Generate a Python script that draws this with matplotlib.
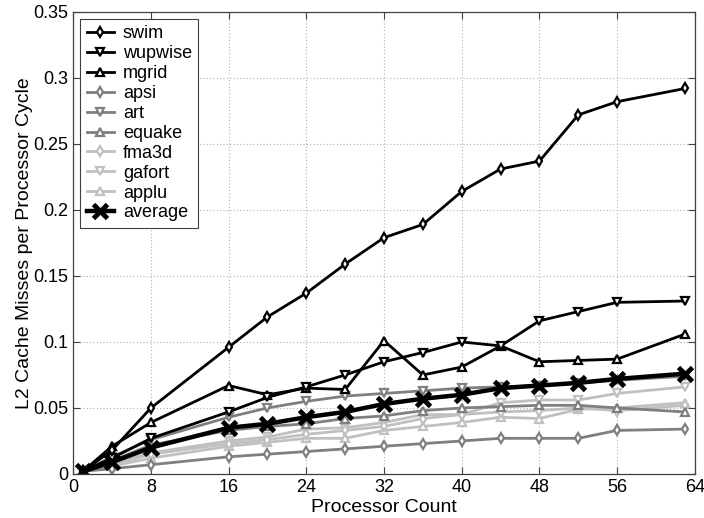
import numpy as np
import matplotlib
matplotlib.use("Agg")
import matplotlib.pyplot as plt

plt.rcParams['font.family'] = ['Liberation Sans', 'DejaVu Sans']

# processor counts sampled in the runs
procs = [1, 4, 8, 16, 20, 24, 28, 32, 36, 40, 44, 48, 52, 56, 63]

# L2 misses per processor cycle for each benchmark
swim    = [0.002, 0.018, 0.050, 0.096, 0.119, 0.137, 0.159, 0.179, 0.189, 0.214, 0.231, 0.237, 0.272, 0.282, 0.292]
wupwise = [0.002, 0.012, 0.027, 0.047, 0.058, 0.066, 0.075, 0.085, 0.092, 0.100, 0.097, 0.116, 0.123, 0.130, 0.131]
mgrid   = [0.002, 0.021, 0.039, 0.067, 0.060, 0.065, 0.064, 0.101, 0.075, 0.081, 0.097, 0.085, 0.086, 0.087, 0.106]
apsi    = [0.002, 0.004, 0.007, 0.013, 0.015, 0.017, 0.019, 0.021, 0.023, 0.025, 0.027, 0.027, 0.027, 0.033, 0.034]
art     = [0.002, 0.013, 0.026, 0.043, 0.050, 0.055, 0.059, 0.061, 0.063, 0.065, 0.066, 0.067, 0.069, 0.071, 0.074]
equake  = [0.002, 0.010, 0.022, 0.033, 0.036, 0.038, 0.042, 0.044, 0.048, 0.050, 0.051, 0.052, 0.052, 0.050, 0.047]
fma3d   = [0.002, 0.007, 0.015, 0.023, 0.026, 0.030, 0.033, 0.036, 0.042, 0.045, 0.047, 0.048, 0.050, 0.048, 0.052]
gafort  = [0.002, 0.008, 0.016, 0.025, 0.028, 0.034, 0.035, 0.039, 0.045, 0.045, 0.054, 0.056, 0.056, 0.061, 0.066]
applu   = [0.002, 0.006, 0.012, 0.021, 0.024, 0.027, 0.027, 0.033, 0.036, 0.039, 0.043, 0.042, 0.049, 0.050, 0.054]
average = [0.002, 0.009, 0.020, 0.035, 0.038, 0.043, 0.047, 0.053, 0.057, 0.060, 0.065, 0.067, 0.069, 0.072, 0.076]

xticks = [0, 8, 16, 24, 32, 40, 48, 56, 64]
yticks = [0, 0.05, 0.1, 0.15, 0.2, 0.25, 0.3, 0.35]
ytick_labels = ['0', '0.05', '0.1', '0.15', '0.2', '0.25', '0.3', '0.35']

black = '#000000'
mid = '#7f7f7f'
light = '#c0c0c0'

series = [
    ('swim', swim, black, 'd'),
    ('wupwise', wupwise, black, 'v'),
    ('mgrid', mgrid, black, '^'),
    ('apsi', apsi, mid, 'd'),
    ('art', art, mid, 'v'),
    ('equake', equake, mid, '^'),
    ('fma3d', fma3d, light, 'd'),
    ('gafort', gafort, light, 'v'),
    ('applu', applu, light, '^'),
]

fig = plt.figure(figsize=(7.04, 5.18), dpi=100)
ax = fig.add_axes([0.104, 0.085, 0.883, 0.892])

# light series first so darker ones sit on top
for name, vals, col, mk in reversed(series):
    ax.plot(procs, vals, color=col, marker=mk, markersize=5.5,
            markerfacecolor='white', markeredgecolor=col, markeredgewidth=1.6,
            linewidth=2, label=name)
ax.plot(procs, average, color=black, marker='x', markersize=10,
        markeredgewidth=3.5, linewidth=3.2, label='average')

handles, labels = ax.get_legend_handles_labels()
order = [labels.index(n) for n, *_ in series] + [labels.index('average')]
leg = ax.legend([handles[i] for i in order], [labels[i] for i in order],
                loc='upper left', fontsize=13, handlelength=1.5,
                labelspacing=0.16, borderpad=0.35, handletextpad=0.5,
                borderaxespad=0.4, fancybox=False, framealpha=1,
                edgecolor='#404040')
leg.get_frame().set_linewidth(0.8)

ax.set_xlim(0, 64)
ax.set_ylim(0, 0.35)
ax.set_xticks(xticks)
ax.set_yticks(yticks)
ax.set_yticklabels(ytick_labels)
ax.tick_params(direction='in', top=True, right=True, labelsize=13,
               length=5, color='#404040')
ax.grid(True, linestyle=(0, (1, 2)), color='#b0b0b0', linewidth=0.8)
for sp in ax.spines.values():
    sp.set_color('#404040')
    sp.set_linewidth(0.9)

ax.set_xlabel('Processor Count', fontsize=14, labelpad=2.5)
ax.set_ylabel('L2 Cache Misses per Processor Cycle', fontsize=14, labelpad=0)

fig.savefig('out.png', dpi=100)
